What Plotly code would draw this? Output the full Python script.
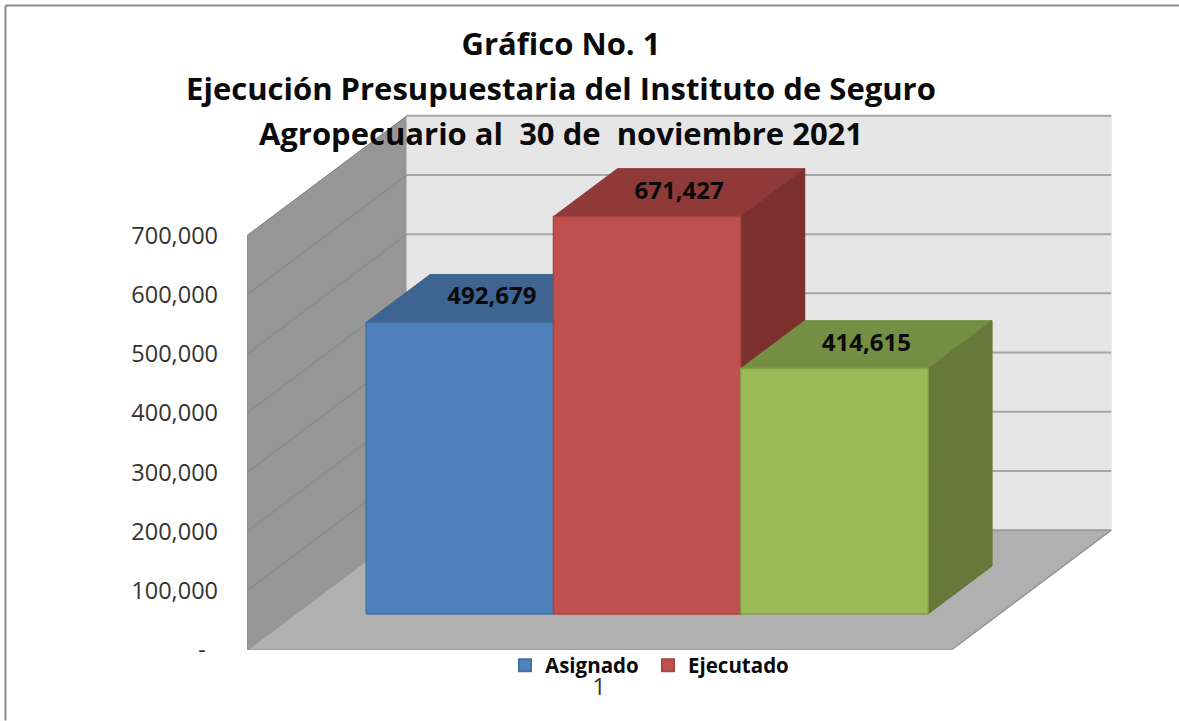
import plotly.graph_objects as go

# ---- data ----
series_names = ["Asignado", "Ejecutado", ""]
series_values = [492679, 671427, 414615]
value_labels = ["492,679", "671,427", "414,615"]
category_labels = ["1"]
y_ticks = [0, 100000, 200000, 300000, 400000, 500000, 600000, 700000]
y_tick_labels = ["-\u00a0\u00a0", "100,000", "200,000", "300,000", "400,000",
                 "500,000", "600,000", "700,000"]
title_lines = ["Gráfico No. 1", "Ejecución Presupuestaria del Instituto de Seguro",
               "Agropecuario al  30 de  noviembre 2021"]

# ---- style ----
front_colors = ["#4F81BD", "#C0504D", "#9BBB59"]
edge_colors = ["#44729F", "#A64543", "#86A24D"]
top_colors = ["#3E6491", "#8F3A38", "#748F44"]
side_colors = ["#355580", "#7B302E", "#66793A"]
FONT = "Open Sans"

# ---- oblique projection of the 3D box ----
W, H = 1179, 721
PX_L, PX_R, PX_B, PX_T = 247, 1112, 650.5, 113
PX_PER_UNIT = 187.3          # one bar slot
PX_PER_VAL = 59.25 / 100000  # front scale of the value axis
X_MAX = (PX_R - PX_L) / PX_PER_UNIT
Y_MAX = (PX_B - PX_T) / PX_PER_VAL
DX = 160 / PX_PER_UNIT       # x shift for full depth
DY = 120 / PX_PER_VAL        # value shift for full depth
FLOOR_W = 3 + 2 * 0.38
BAR_D0, BAR_D1 = 0.30, 0.70
GAP = 0.38


def P(x, v, d):
    return x + d * DX, v + d * DY


def poly(points, fill, line=None, width=1, **kw):
    xs, ys = zip(*[P(*p) for p in points + points[:1]])
    return go.Scatter(x=xs, y=ys, mode="lines", fill="toself", fillcolor=fill,
                      line=dict(color=line or fill, width=width),
                      hoverinfo="skip", showlegend=False, **kw)


fig = go.Figure()

top = y_ticks[-1]
# walls and floor
fig.add_trace(poly([(0, 0, 0), (0, 0, 1), (0, top, 1), (0, top, 0)], "#969696", "#8E8E8E"))
fig.add_trace(poly([(0, 0, 1), (FLOOR_W, 0, 1), (FLOOR_W, top, 1), (0, top, 1)], "#E6E6E6", "#E6E6E6"))
fig.add_trace(poly([(0, 0, 0), (FLOOR_W, 0, 0), (FLOOR_W, 0, 1), (0, 0, 1)], "#B0B0B0", "#979797", 1.5))

# gridlines (side wall then back wall)
for t in y_ticks[1:]:
    xs, ys = zip(P(0, t, 0), P(0, t, 1))
    fig.add_trace(go.Scatter(x=xs, y=ys, mode="lines", line=dict(color="#858585", width=1),
                             hoverinfo="skip", showlegend=False))
    xs, ys = zip(P(0, t, 1), P(FLOOR_W, t, 1))
    fig.add_trace(go.Scatter(x=xs, y=ys, mode="lines", line=dict(color="#A6A6A6", width=2),
                             hoverinfo="skip", showlegend=False))

# bars, left to right
for i, v in enumerate(series_values):
    x0, x1 = GAP + i, GAP + i + 1
    fig.add_trace(poly([(x0, v, BAR_D0), (x1, v, BAR_D0), (x1, v, BAR_D1), (x0, v, BAR_D1)], top_colors[i]))
    fig.add_trace(poly([(x1, 0, BAR_D0), (x1, 0, BAR_D1), (x1, v, BAR_D1), (x1, v, BAR_D0)], side_colors[i]))
    fig.add_trace(poly([(x0, 0, BAR_D0), (x1, 0, BAR_D0), (x1, v, BAR_D0), (x0, v, BAR_D0)],
                       front_colors[i], edge_colors[i], 1.5))

# value labels on the top faces
for i, v in enumerate(series_values):
    lx, ly = P(GAP + i + 0.5, v, 0.5)
    fig.add_trace(go.Scatter(x=[lx], y=[ly], mode="text", text=[value_labels[i]],
                             textposition="middle center",
                             textfont=dict(family=FONT, size=24, color="#0A0A0A", weight="bold"),
                             hoverinfo="skip", showlegend=False))

# legend entries
for name, color, edge in zip(series_names[:2], front_colors, edge_colors):
    fig.add_trace(go.Scatter(x=[None], y=[None], mode="markers", name=name,
                             marker=dict(symbol="square", size=14, color=color,
                                         line=dict(color=edge, width=1.5))))

# outer frame
fx = lambda px: (px - PX_L) / (PX_R - PX_L)
fy = lambda px: (PX_B - px) / (PX_B - PX_T)
frame = dict(type="line", xref="paper", yref="paper", line=dict(color="#8C8C8C", width=2))

title_text = "<br>".join(f'<span style="font-size:31px">{t}</span>' for t in title_lines)

fig.update_layout(
    width=W, height=H, autosize=False,
    margin=dict(l=PX_L, r=W - PX_R, t=PX_T, b=H - PX_B, autoexpand=False),
    paper_bgcolor="white", plot_bgcolor="rgba(0,0,0,0)",
    title=dict(text=title_text, x=561 / W, xanchor="center",
               y=1 - 55 / H, yanchor="top",
               font=dict(family=FONT, size=34.6, color="#0A0A0A", weight="bold")),
    xaxis=dict(range=[0, X_MAX], showgrid=False, zeroline=False, showline=False,
               tickmode="array", tickvals=[FLOOR_W / 2], ticktext=category_labels,
               ticks="", ticklabelstandoff=21, tickfont=dict(family=FONT, size=23, color="#333333"),
               fixedrange=True),
    yaxis=dict(range=[0, Y_MAX], showgrid=False, zeroline=False, showline=False,
               tickmode="array", tickvals=y_ticks, ticktext=y_tick_labels,
               ticks="", ticklabelstandoff=28, tickfont=dict(family=FONT, size=23.5, color="#333333"),
               fixedrange=True),
    legend=dict(orientation="h", x=(505 - PX_L) / (PX_R - PX_L), xanchor="left",
                y=fy(646), yanchor="top", bgcolor="rgba(0,0,0,0)", entrywidth=98,
                font=dict(family=FONT, size=20.5, color="#0A0A0A", weight="bold"),
                traceorder="normal", itemsizing="constant"),
    shapes=[dict(frame, x0=fx(5.5), x1=fx(W), y0=fy(5.5), y1=fy(5.5)),
            dict(frame, x0=fx(5.5), x1=fx(5.5), y0=fy(5.5), y1=fy(H))],
)

fig.write_html("out.html", config={"displayModeBar": False},
               post_script="document.body.style.margin='0';")
